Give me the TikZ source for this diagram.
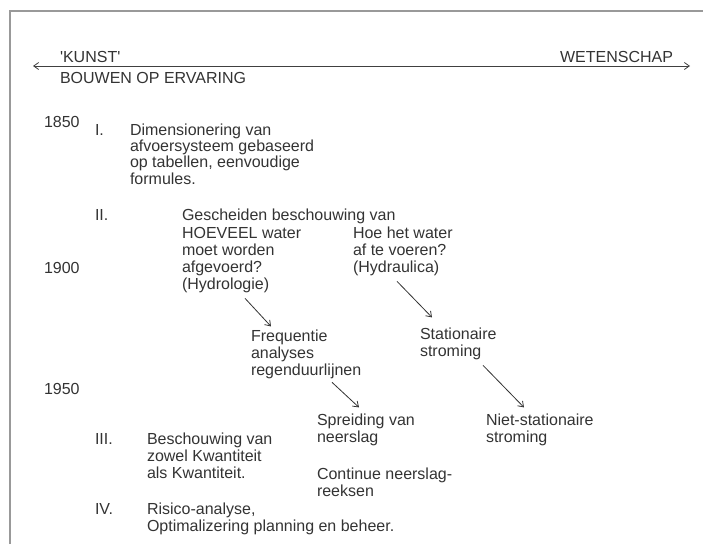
\documentclass[tikz,border=0pt]{standalone}
\usepackage{fontspec}
\setmainfont{Liberation Sans}
\usetikzlibrary{arrows.meta,calc}
\begin{document}
\begin{tikzpicture}[x=1pt,y=-1pt,
  txt/.style={anchor=base west,inner sep=0pt,outer sep=0pt,align=left,text=black!80,
    font=\fontsize{16}{17}\selectfont},
  arr/.style={draw=black!80,line width=0.8pt,-{Straight Barb[length=5pt,width=7pt]}},
  frame/.style={draw=black!40,line width=1.1pt}]
\useasboundingbox (0,0) rectangle (703,544);
% frame
\coordinate (fbl) at (10,544);
\coordinate (ftl) at (10,11);
\coordinate (ftr) at (703,11);
\draw[frame] (fbl) -- (ftl) -- (ftr);
% axis
\coordinate (axl) at (33,66);
\coordinate (axr) at (690,66);
\draw[draw=black!75,line width=0.8pt,{Straight Barb[length=5pt,width=7pt]}-{Straight Barb[length=5pt,width=7pt]}] (axl) -- (axr);
\node[txt] (kunst) at (60,62) {\textquotesingle KUNST\textquotesingle};
\node[txt,anchor=base east] (weten) at (673,62) {WETENSCHAP};
\node[txt] (bouwen) at (60,83) {BOUWEN OP ERVARING};
% years
\node[txt] (y1850) at (44,127) {1850};
\node[txt] (y1900) at (44,273) {1900};
\node[txt] (y1950) at (44,394) {1950};
% roman
\node[txt] (r1) at (95,135) {I.};
\node[txt] (r2) at (95,220) {II.};
\node[txt] (r3) at (95,444) {III.};
\node[txt] (r4) at (95,514) {IV.};
% blocks (anchor = baseline of last line)
\node[txt,font=\fontsize{16}{16.3}\selectfont] (dim) at (130,184) {Dimensionering van\\afvoersysteem gebaseerd\\op tabellen, eenvoudige\\formules.};
\node[txt] (gesch) at (182,220) {Gescheiden beschouwing van};
\node[txt] (hoeveel) at (182,289) {HOEVEEL water\\moet worden\\afgevoerd?\\(Hydrologie)};
\node[txt] (hoe) at (353,272) {Hoe het water\\af te voeren?\\(Hydraulica)};
\node[txt] (freq) at (251,375) {Frequentie\\analyses\\regenduurlijnen};
\node[txt] (stat) at (420,356) {Stationaire\\stroming};
\node[txt] (spreid) at (317,442) {Spreiding van\\neerslag};
\node[txt] (niet) at (486,442) {Niet-stationaire\\stroming};
\node[txt] (besch) at (147,478) {Beschouwing van\\zowel Kwantiteit\\als Kwantiteit.};
\node[txt] (cont) at (317,496) {Continue neerslag-\\reeksen};
\node[txt] (risico) at (147,531) {Risico-analyse,\\Optimalizering planning en beheer.};
% arrows
\draw[arr] ([xshift=63pt,yshift=-6pt]hoeveel.south west) -- ([xshift=20pt,yshift=3pt]freq.north west);
\draw[arr] ([xshift=44pt,yshift=-6pt]hoe.south west) -- ([xshift=12pt,yshift=10pt]stat.north west);
\draw[arr] ([xshift=63pt,yshift=-6pt]stat.south west) -- ([xshift=38pt,yshift=6pt]niet.north west);
\draw[arr] ([xshift=81pt,yshift=-4pt]freq.south west) -- ([xshift=42pt,yshift=6pt]spreid.north west);
\end{tikzpicture}
\end{document}
